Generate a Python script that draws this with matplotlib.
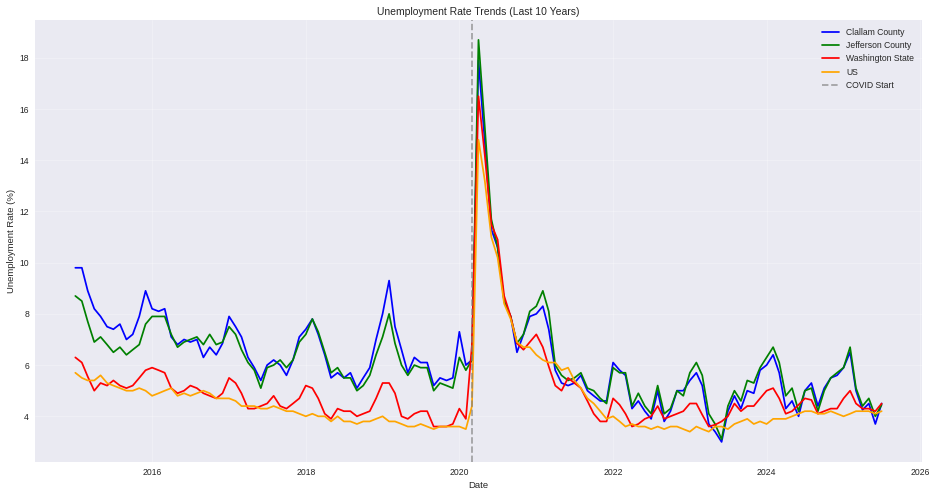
import numpy as np
import pandas as pd
import matplotlib
matplotlib.use("Agg")
import matplotlib.pyplot as plt

# miesieczne dane, 2015-01 .. 2025-07
dates = pd.date_range("2015-01-01", "2025-07-01", freq="MS")

clallam = [
    9.8, 9.8, 8.9, 8.2, 7.9, 7.5, 7.4, 7.6, 7.0, 7.2, 7.9, 8.9,
    8.2, 8.1, 8.2, 7.1, 6.8, 7.0, 6.9, 7.0, 6.3, 6.7, 6.4, 6.85,
    7.9, 7.5, 7.1, 6.3, 5.9, 5.4, 6.0, 6.2, 6.0, 5.6, 6.2, 7.1,
    7.4, 7.8, 7.2, 6.4, 5.5, 5.7, 5.5, 5.7, 5.1, 5.5, 5.9, 7.0,
    8.0, 9.3, 7.5, 6.6, 5.7, 6.3, 6.1, 6.1, 5.2, 5.5, 5.4, 5.5,
    7.3, 6.0, 6.2, 17.9, 14.7, 11.3, 10.6, 8.5, 7.9, 6.5, 7.2, 7.9,
    8.0, 8.3, 7.4, 5.8, 5.3, 5.2, 5.3, 5.6, 5.0, 4.8, 4.6, 4.6,
    6.1, 5.8, 5.6, 4.3, 4.6, 4.2, 3.9, 5.0, 3.8, 4.2, 5.0, 5.0,
    5.4, 5.7, 5.2, 3.7, 3.4, 3.0, 4.2, 4.8, 4.3, 5.0, 4.9, 5.8,
    6.0, 6.4, 5.7, 4.3, 4.6, 4.0, 5.0, 5.3, 4.4, 5.1, 5.5, 5.6,
    5.9, 6.5, 5.0, 4.25, 4.5, 3.7, 4.5,
]

jefferson = [
    8.7, 8.5, 7.7, 6.9, 7.1, 6.8, 6.5, 6.7, 6.4, 6.6, 6.8, 7.6,
    7.9, 7.9, 7.9, 7.2, 6.7, 6.9, 7.0, 7.1, 6.8, 7.2, 6.8, 6.9,
    7.5, 7.2, 6.6, 6.1, 5.8, 5.1, 5.9, 6.0, 6.2, 5.9, 6.2, 6.9,
    7.2, 7.8, 7.3, 6.5, 5.7, 5.9, 5.5, 5.5, 5.0, 5.2, 5.6, 6.4,
    7.1, 8.0, 6.85, 6.0, 5.6, 6.0, 5.9, 5.9, 5.0, 5.3, 5.2, 5.1,
    6.3, 5.8, 6.2, 18.7, 15.3, 11.7, 10.6, 8.5, 7.9, 6.85, 7.2, 8.1,
    8.3, 8.9, 8.1, 6.0, 5.6, 5.4, 5.5, 5.7, 5.1, 5.0, 4.7, 4.5,
    5.9, 5.7, 5.7, 4.4, 4.9, 4.4, 4.1, 5.2, 4.1, 4.3, 5.0, 4.8,
    5.7, 6.1, 5.6, 4.1, 3.7, 3.1, 4.4, 5.0, 4.6, 5.4, 5.3, 5.9,
    6.3, 6.7, 6.1, 4.8, 5.1, 4.2, 5.0, 5.1, 4.2, 5.0, 5.5, 5.7,
    5.9, 6.7, 5.1, 4.4, 4.7, 4.0, 4.45,
]

washington = [
    6.3, 6.1, 5.55, 5.0, 5.3, 5.2, 5.4, 5.2, 5.1, 5.2, 5.5, 5.8,
    5.9, 5.8, 5.7, 5.1, 4.9, 5.0, 5.2, 5.1, 4.9, 4.8, 4.7, 4.9,
    5.5, 5.3, 4.9, 4.3, 4.3, 4.4, 4.5, 4.8, 4.4, 4.3, 4.5, 4.7,
    5.2, 5.1, 4.7, 4.1, 3.9, 4.3, 4.2, 4.2, 4.0, 4.1, 4.2, 4.7,
    5.3, 5.3, 4.9, 4.0, 3.9, 4.1, 4.2, 4.2, 3.6, 3.6, 3.6, 3.7,
    4.3, 3.9, 6.8, 16.5, 14.2, 11.5, 10.9, 8.7, 7.9, 6.85, 6.6, 6.9,
    7.2, 6.7, 5.95, 5.2, 5.0, 5.5, 5.3, 5.1, 4.6, 4.1, 3.8, 3.8,
    4.7, 4.45, 4.1, 3.6, 3.7, 3.9, 4.0, 4.4, 3.9, 4.0, 4.1, 4.2,
    4.5, 4.5, 4.06, 3.6, 3.67, 3.8, 4.0, 4.5, 4.2, 4.4, 4.4, 4.7,
    5.0, 5.1, 4.7, 4.1, 4.2, 4.45, 4.7, 4.64, 4.1, 4.2, 4.3, 4.3,
    4.7, 5.0, 4.5, 4.3, 4.3, 4.2, 4.5,
]

us = [
    5.7, 5.5, 5.4, 5.4, 5.6, 5.3, 5.2, 5.1, 5.0, 5.0, 5.1, 5.0,
    4.8, 4.9, 5.0, 5.1, 4.8, 4.9, 4.8, 4.9, 5.0, 4.9, 4.7, 4.7,
    4.7, 4.6, 4.4, 4.4, 4.4, 4.3, 4.3, 4.4, 4.3, 4.2, 4.2, 4.1,
    4.0, 4.1, 4.0, 4.0, 3.8, 4.0, 3.8, 3.8, 3.7, 3.8, 3.8, 3.9,
    4.0, 3.8, 3.8, 3.7, 3.6, 3.6, 3.7, 3.6, 3.5, 3.6, 3.6, 3.6,
    3.6, 3.5, 4.4, 14.8, 13.2, 11.0, 10.2, 8.4, 7.8, 6.9, 6.7, 6.7,
    6.4, 6.2, 6.1, 6.1, 5.8, 5.9, 5.4, 5.1, 4.7, 4.5, 4.2, 3.9,
    4.0, 3.8, 3.6, 3.7, 3.6, 3.6, 3.5, 3.6, 3.5, 3.6, 3.6, 3.5,
    3.4, 3.6, 3.5, 3.4, 3.6, 3.6, 3.5, 3.7, 3.8, 3.9, 3.7, 3.8,
    3.7, 3.9, 3.9, 3.9, 4.0, 4.1, 4.2, 4.2, 4.1, 4.1, 4.2, 4.1,
    4.0, 4.1, 4.2, 4.2, 4.2, 4.1, 4.2,
]

covid_start = pd.Timestamp("2020-03-01")

plt.style.use("seaborn-v0_8")

fig, ax = plt.subplots(figsize=(15, 7.95), dpi=62.4)
ax.plot(dates, clallam, color="blue", linewidth=2, label="Clallam County")
ax.plot(dates, jefferson, color="green", linewidth=2, label="Jefferson County")
ax.plot(dates, washington, color="red", linewidth=2, label="Washington State")
ax.plot(dates, us, color="orange", linewidth=2, label="US")
ax.axvline(covid_start, color="gray", linestyle="--", linewidth=2, alpha=0.7, label="COVID Start")

ax.set_title("Unemployment Rate Trends (Last 10 Years)")
ax.set_xlabel("Date")
ax.set_ylabel("Unemployment Rate (%)")
ax.legend(loc="upper right")
ax.grid(True, alpha=0.3)

fig.subplots_adjust(left=0.0374, right=0.985, bottom=0.0685, top=0.96)
fig.savefig("out.png", dpi=62.4)
